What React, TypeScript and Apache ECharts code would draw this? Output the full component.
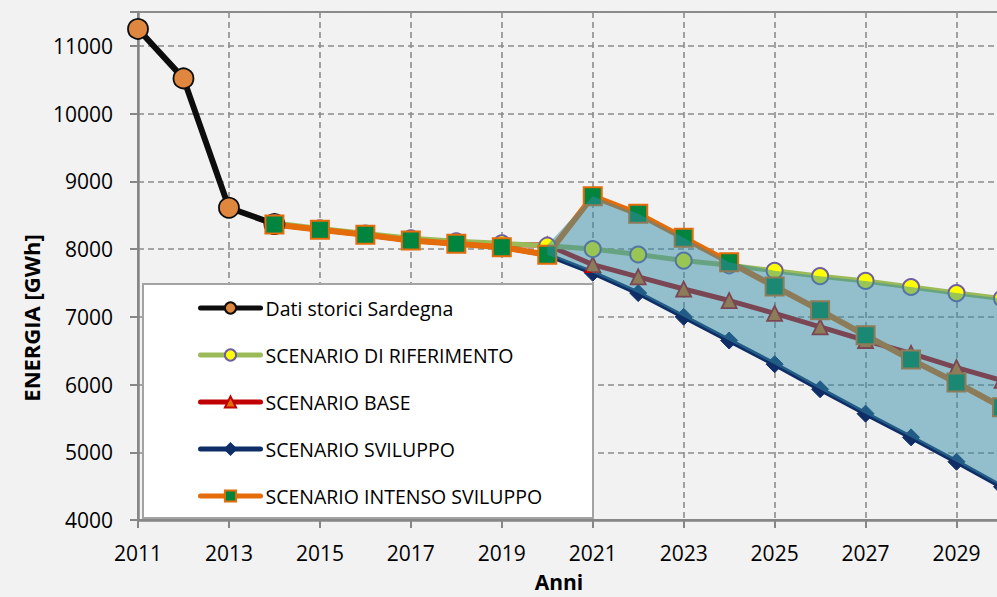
import React, { useEffect, useRef } from "react";
import * as echarts from "echarts";

const histYears = [2011, 2012, 2013, 2014];
const histValues = [11250, 10520, 8610, 8370];

const scenYears = [2014, 2015, 2016, 2017, 2018, 2019, 2020, 2021, 2022, 2023, 2024, 2025, 2026, 2027, 2028, 2029, 2030];
const riferimento = [8385, 8305, 8230, 8160, 8115, 8085, 8050, 8000, 7920, 7830, 7760, 7680, 7600, 7530, 7440, 7350, 7270];
const base = [8370, 8290, 8215, 8140, 8100, 8065, 8060, 7770, 7590, 7410, 7240, 7050, 6850, 6650, 6460, 6250, 6060];
const sviluppo = [8362, 8284, 8210, 8126, 8077, 8028, 7915, 7650, 7350, 7000, 6650, 6300, 5930, 5570, 5220, 4860, 4490];
const intenso = [8362, 8284, 8210, 8126, 8077, 8028, 7915, 8780, 8520, 8166, 7807, 7448, 7095, 6726, 6368, 6029, 5665];

const bandStartYear = 2020;

const seriesNames = [
  "Dati storici Sardegna",
  "SCENARIO DI RIFERIMENTO",
  "SCENARIO BASE",
  "SCENARIO SVILUPPO",
  "SCENARIO INTENSO SVILUPPO",
];

const FONT = "'Open Sans', 'Noto Sans', sans-serif";

export default function App() {
  const ref = useRef<HTMLDivElement>(null);

  useEffect(() => {
    if (!ref.current) return;
    const chart = echarts.init(ref.current, undefined, { renderer: "svg" });

    const pairs = (xs: number[], ys: number[]) => xs.map((x, i) => [x, ys[i]]);

    const band: number[][] = [];
    scenYears.forEach((y, i) => {
      if (y < bandStartYear) return;
      const vals = [riferimento[i], base[i], sviluppo[i], intenso[i]];
      band.push([y, Math.min(...vals), Math.max(...vals)]);
    });

    const option: any = {
      animation: false,
      backgroundColor: "#f2f2f2",
      textStyle: { fontFamily: FONT },
      grid: {
        left: 138,
        right: -5,
        top: 12,
        bottom: 77,
        containLabel: false,
        outerBoundsMode: "none",
        show: true,
        borderColor: "#8a8a8a",
        borderWidth: 2,
        backgroundColor: "transparent",
      },
      xAxis: {
        type: "value",
        min: 2011,
        max: 2030,
        interval: 2,
        name: "Anni",
        nameLocation: "middle",
        nameGap: 51,
        nameTextStyle: { fontFamily: FONT, fontSize: 21, lineHeight: 21, fontWeight: "bold", color: "#000", padding: [0, 22, 0, 0] },
        axisLine: { show: true, lineStyle: { color: "#868686", width: 2.5 } },
        axisTick: { show: true, inside: false, length: 8, lineStyle: { color: "#868686", width: 2 } },
        axisLabel: {
          margin: 22,
          fontFamily: FONT,
          fontSize: 21,
          color: "#000",
          formatter: (v: number) => ((v - 2011) % 2 === 0 && v < 2030 ? String(v) : ""),
        },
        splitLine: { show: true, lineStyle: { color: "#8c8c8c", width: 1.6, type: [6, 4] } },
      },
      yAxis: {
        type: "value",
        min: 4000,
        max: 11500,
        interval: 1000,
        name: "ENERGIA [GWh]",
        nameLocation: "middle",
        nameGap: 96,
        nameTextStyle: { fontFamily: FONT, fontSize: 22, fontWeight: "bold", color: "#000", padding: [0, 104, 0, 0] },
        axisLine: { show: true, lineStyle: { color: "#868686", width: 2.5 } },
        axisTick: { show: true, inside: false, length: 8, lineStyle: { color: "#868686", width: 2 } },
        axisLabel: {
          margin: 25,
          fontFamily: FONT,
          fontSize: 21,
          color: "#000",
          formatter: (v: number) => (v % 1000 === 0 ? String(v) : ""),
        },
        splitLine: { show: true, lineStyle: { color: "#8c8c8c", width: 1.6, type: [6, 4] } },
      },
      legend: {
        data: seriesNames,
        orient: "vertical",
        left: 198,
        top: 297,
        z: 10,
        itemWidth: 60,
        itemHeight: 14,
        itemGap: 25,
        padding: 0,
        textStyle: { fontFamily: FONT, fontSize: 19.5, color: "#000", lineHeight: 20, padding: [2, 0, 0, 0] },
        lineStyle: { width: 5, cap: "round" },
      },
      graphic: [
        {
          type: "rect",
          z: 5,
          shape: { x: 143, y: 284, width: 450, height: 234 },
          style: { fill: "#ffffff", stroke: "#a3a3a3", lineWidth: 2 },
        },
      ],
      series: [
        {
          name: seriesNames[0],
          type: "line",
          data: pairs(histYears, histValues),
          symbol: "circle",
          symbolSize: 20,
          lineStyle: { color: "#0d0d0d", width: 6 },
          itemStyle: { color: "#e0873f", borderColor: "#0d0d0d", borderWidth: 1.8 },
          z: 2,
        },
        {
          name: seriesNames[3],
          type: "line",
          data: pairs(scenYears, sviluppo),
          symbol: "diamond",
          symbolSize: 17,
          lineStyle: { color: "#0f2d66", width: 5 },
          itemStyle: { color: "#0f2d66", borderColor: "#0f2d66", borderWidth: 1 },
          z: 2,
        },
        {
          name: seriesNames[2],
          type: "line",
          data: pairs(scenYears, base),
          symbol: "triangle",
          symbolSize: 15,
          lineStyle: { color: "#c00000", width: 5 },
          itemStyle: { color: "#e46c0a", borderColor: "#c00000", borderWidth: 1.8 },
          z: 2,
        },
        {
          name: seriesNames[1],
          type: "line",
          data: pairs(scenYears, riferimento),
          symbol: "circle",
          symbolSize: 16,
          lineStyle: { color: "#9bbb59", width: 5 },
          itemStyle: { color: "#ffff00", borderColor: "#6f5fa0", borderWidth: 2 },
          z: 2,
        },
        {
          name: seriesNames[4],
          type: "line",
          data: pairs(scenYears, intenso),
          symbol: "rect",
          symbolSize: 18,
          lineStyle: { color: "#e46c0a", width: 6 },
          itemStyle: { color: "#00843e", borderColor: "#e46c0a", borderWidth: 2 },
          z: 2,
        },
        {
          name: "band",
          type: "custom",
          data: band,
          silent: true,
          z: 3,
          encode: { x: 0, y: [1, 2] },
          renderItem: (params: any, api: any) => {
            if (params.dataIndex !== 0) return null;
            const top = band.map((d) => api.coord([d[0], d[2]]));
            const bottom = band.map((d) => api.coord([d[0], d[1]])).reverse();
            return {
              type: "polygon",
              shape: { points: top.concat(bottom) },
              style: { fill: "rgba(52,140,168,0.5)" },
            };
          },
        },
      ],
    };

    chart.setOption(option);
    return () => chart.dispose();
  }, []);

  return (
    <div
      ref={ref}
      style={{ position: "fixed", left: 0, top: 0, width: 997, height: 597, background: "#f2f2f2" }}
    />
  );
}
